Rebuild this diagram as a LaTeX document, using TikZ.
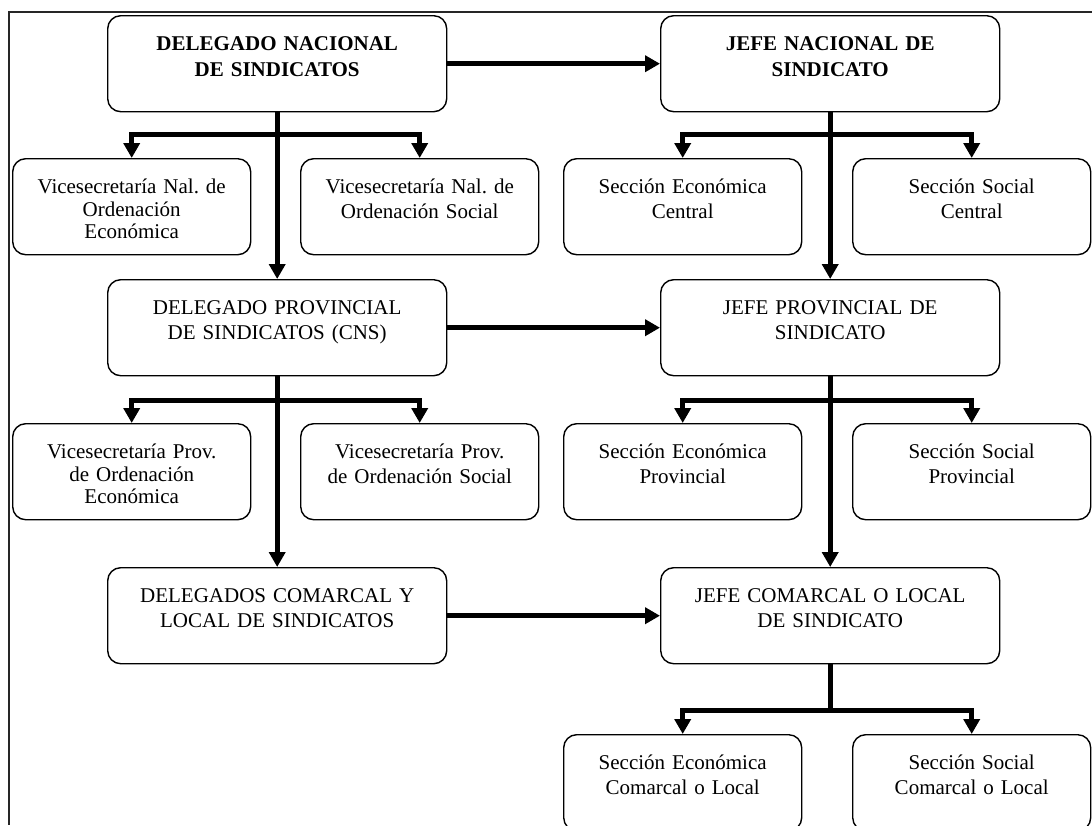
\documentclass[tikz,border=0pt]{standalone}
\usepackage{fontspec}
\setmainfont{Liberation Serif}
\usetikzlibrary{arrows.meta}
\frenchspacing

\begin{document}
\begin{tikzpicture}[x=1pt, y=-1pt,
		caja/.style={draw, line width=1.4pt, rounded corners=13pt, anchor=north west, text width=329pt, align=center, inner xsep=5pt, inner ysep=0pt, text height=35pt, text depth=61pt, font=\fontsize{21}{25}\selectfont},
		cajita/.style={caja, text width=228pt},
		tres/.style={font=\fontsize{21}{22.5}\selectfont},
		negrita/.style={font=\fontsize{21}{26}\selectfont\bfseries},
		linea/.style={line width=5pt},
		flecha/.style={linea, -{Triangle[width=16pt,length=15pt]}}]
			\useasboundingbox (0,0) rectangle (1092,825);
			\draw[line width=1.5pt, black!85] (1092,12) -- (9,12) -- (9,825);

			\node[caja, negrita] (dnac) at (107,15) {DELEGADO NACIONAL\\DE SINDICATOS};
			\node[caja, negrita] (jnac) at (660,15) {JEFE NACIONAL DE\\SINDICATO};
			\node[cajita, tres] (vnale) at (12,158) {Vicesecretaría Nal. de\\Ordenación\\Económica};
			\node[cajita] (vnals) at (300,158) {Vicesecretaría Nal. de\\Ordenación Social};
			\node[cajita] (sece) at (563,158) {Sección Económica\\Central};
			\node[cajita] (secs) at (852,158) {Sección Social\\Central};

			\node[caja] (dprov) at (107,279) {DELEGADO PROVINCIAL\\DE SINDICATOS (CNS)};
			\node[caja] (jprov) at (660,279) {JEFE PROVINCIAL DE\\SINDICATO};
			\node[cajita, tres] (vprove) at (12,423) {Vicesecretaría Prov.\\de Ordenación\\Económica};
			\node[cajita] (vprovs) at (300,423) {Vicesecretaría Prov.\\de Ordenación Social};
			\node[cajita] (secep) at (563,423) {Sección Económica\\Provincial};
			\node[cajita] (secsp) at (852,423) {Sección Social\\Provincial};

			\node[caja] (dcom) at (107,567) {DELEGADOS COMARCAL Y\\LOCAL DE SINDICATOS};
			\node[caja] (jcom) at (660,567) {JEFE COMARCAL O LOCAL\\DE SINDICATO};
			\node[cajita] (secec) at (563,734) {Sección Económica\\Comarcal o Local};
			\node[cajita] (secsc) at (852,734) {Sección Social\\Comarcal o Local};

			\draw[flecha] (dnac.east) -- (jnac.west);
			\draw[flecha] (dprov.east) -- (jprov.west);
			\draw[flecha] (dcom.east) -- (jcom.west);

			\draw[flecha] (dnac.south) -- (dprov.north);
			\draw[flecha] (dprov.south) -- (dcom.north);
			\draw[flecha] (jnac.south) -- (jprov.north);
			\draw[flecha] (jprov.south) -- (jcom.north);

			\coordinate (r1) at (dnac.south |- 0,134);
			\coordinate (r2) at (jnac.south |- 0,134);
			\coordinate (r3) at (dprov.south |- 0,400);
			\coordinate (r4) at (jprov.south |- 0,400);
			\coordinate (r5) at (jcom.south |- 0,710);
			\draw[flecha] (r1) -| (vnale.north);
			\draw[flecha] (r1) -| (vnals.north);
			\draw[flecha] (r2) -| (sece.north);
			\draw[flecha] (r2) -| (secs.north);
			\draw[flecha] (r3) -| (vprove.north);
			\draw[flecha] (r3) -| (vprovs.north);
			\draw[flecha] (r4) -| (secep.north);
			\draw[flecha] (r4) -| (secsp.north);
			\draw[linea] (jcom.south) -- (r5);
			\draw[flecha] (r5) -| (secec.north);
			\draw[flecha] (r5) -| (secsc.north);
		\end{tikzpicture}
\end{document}
